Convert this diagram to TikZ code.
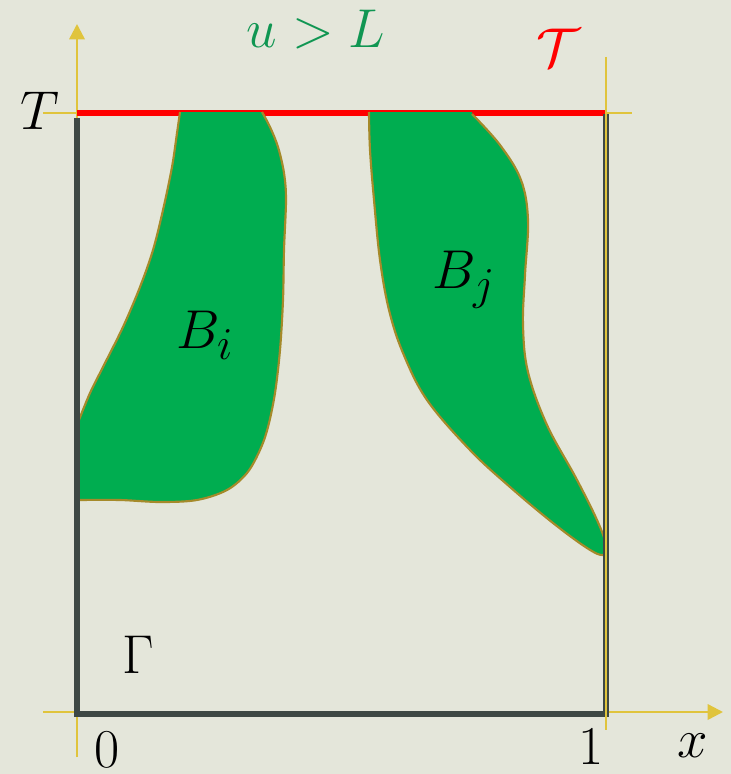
\documentclass[tikz,border=0pt]{standalone}
\usepackage{amsmath}
\usepackage{amssymb}
\usepackage{tikz}
\usetikzlibrary{arrows.meta, positioning}

\definecolor{papir}{RGB}{228,230,218}
\definecolor{osazuta}{RGB}{224,196,60}
\definecolor{ivica}{RGB}{62,72,68}
\definecolor{zelena}{RGB}{0,173,80}
\definecolor{obod}{RGB}{165,138,42}
\definecolor{natpis}{RGB}{16,150,82}

\begin{document}
\begin{tikzpicture}[x=0.75pt, y=-0.75pt,
    >={Triangle[length=11.5pt, width=11.5pt]},
    lbl/.style={font=\Huge, scale=1.65, inner sep=0pt},
    osa/.style={->, line width=1.8pt, draw=osazuta},
    crtica/.style={line width=1.3pt, draw=osazuta},
    rub/.style={line width=4.4pt, draw=ivica},
    vrh/.style={line width=4.6pt, draw=red},
    oblast/.style={fill=zelena},
    granica/.style={line width=1.6pt, draw=obod}]

    % ---------------- okvir slike ----------------
    \fill [papir] (0,0) rectangle (731,774);
    \useasboundingbox (0,0) rectangle (731,774);

    \coordinate (O) at (77,714);
    \coordinate (A) at (606,714);
    \coordinate (B) at (606,113);
    \coordinate (C) at (77,113);

    % ---------------- ose ----------------
    \draw [osa] (77,757) -- (77,24);
    \draw [osa] (43,712) -- (723,712);
    \draw [crtica] (43,113) -- (C);

    % ---------------- gornja ivica ----------------
    \draw [vrh] (C) -- (B);

    % ---------------- oblasti B_i i B_j ----------------
    \fill [oblast] (180,112) -- (262,112)
        -- plot[smooth, tension=0.55] coordinates {(262,112) (270,127) (278,147) (284,173) (286,200) (284,250) (283,300) (280,350) (275,393) (268,427) (260,450) (247,473) (227,490) (197,500) (160,502) (120,500) (78,500)}
        -- (78,420)
        -- plot[smooth, tension=0.55] coordinates {(78,420) (90,393) (103,367) (123,327) (140,287) (153,250) (163,210) (172,167) (177,133) (180,112)}
        -- cycle;
    \draw [granica] plot[smooth, tension=0.55] coordinates {(262,112) (270,127) (278,147) (284,173) (286,200) (284,250) (283,300) (280,350) (275,393) (268,427) (260,450) (247,473) (227,490) (197,500) (160,502) (120,500) (78,500)};
    \draw [granica] plot[smooth, tension=0.55] coordinates {(79,420) (90,393) (103,367) (123,327) (140,287) (153,250) (163,210) (172,167) (177,133) (180,112)};

    \fill [oblast] (369,112) -- (472,112)
        -- plot[smooth, tension=0.6] coordinates {(472,114) (500,145) (521,180) (528,220) (525,275) (523,325) (528,372) (547,425) (576,478) (597,520) (606,545) (603,555) (587,548) (553,523) (510,487) (470,450) (427,400) (403,353) (389,310) (380,260) (374,200) (370,150) (369,112)}
        -- cycle;
    \draw [granica] plot[smooth, tension=0.6] coordinates {(472,114) (500,145) (521,180) (528,220) (525,275) (523,325) (528,372) (547,425) (576,478) (597,520) (606,545) (603,555) (587,548) (553,523) (510,487) (470,450) (427,400) (403,353) (389,310) (380,260) (374,200) (370,150) (369,112)};

    % ---------------- rub oblasti ----------------
    \draw [rub] (77,118) -- (O) -- (A) -- (606,114);
    \draw [crtica] (606,57) -- (606,730);
    \draw [crtica] (B) -- (632,113);

    % ---------------- natpisi ----------------
    \node (tT)    [lbl, anchor=base] at (40,129)        {$T$};
    \node (uslov) [lbl, anchor=base, text=natpis] at (316,48) {$u > L$};
    \node (skupT) [lbl, text=red] at (558,48)           {$\mathcal{T}$};
    \node (Bi)    [lbl, anchor=base west] at (176,348)  {$B_i$};
    \node (Bj)    [lbl, anchor=base west] at (432,288)  {$B_j$};
    \node (gama)  [lbl, anchor=base] at (138,673)       {$\Gamma$};
    \node (nula)  [lbl, anchor=base] at (107,767)       {$0$};
    \node (jed)   [lbl, anchor=base] at (591,764)       {$1$};
    \node (xosa)  [lbl, anchor=base] at (693,757)       {$x$};
\end{tikzpicture}
\end{document}
